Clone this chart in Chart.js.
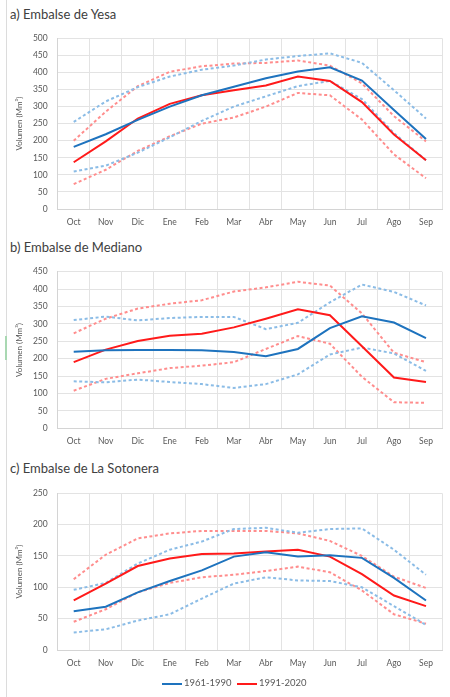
<!DOCTYPE html>
<html>
<head>
<meta charset="utf-8">
<script src="https://cdn.jsdelivr.net/npm/chart.js@4.4.1/dist/chart.umd.min.js"></script>
<style>
  body { margin: 0; background: #fff; width: 450px; height: 697px; position: relative; overflow: hidden; font-family: Lato, "Liberation Sans", sans-serif; }
  .borde { position: absolute; left: 6px; top: 0; width: 1px; height: 697px; background: #dcdcdc; }
  .marca { position: absolute; left: 5px; top: 336px; width: 2px; height: 24px; background: #a9d8b2; }
  .titulo { position: absolute; left: 10px; font-size: 13px; color: #404040; line-height: 16px; }
  canvas { position: absolute; left: 0; }
  .leyenda { position: absolute; top: 677px; font-family: Lato, "Liberation Sans", sans-serif; font-size: 9.5px; color: #595959; line-height: 12px; white-space: nowrap; }
  .leyenda span.linea { display: inline-block; width: 20px; height: 2px; vertical-align: middle; margin-right: 2px; }
</style>
</head>
<body>
<div class="borde"></div>
<div class="marca"></div>

<div class="titulo" style="top:6px">a) Embalse de Yesa</div>
<canvas id="yesa" width="450" height="230" style="top:0"></canvas>

<div class="titulo" style="top:239px">b) Embalse de Mediano</div>
<canvas id="mediano" width="450" height="225" style="top:230px"></canvas>

<div class="titulo" style="top:460px">c) Embalse de La Sotonera</div>
<canvas id="sotonera" width="450" height="242" style="top:455px"></canvas>

<div class="leyenda" style="left:162px"><span class="linea" style="background:#1e73be"></span>1961-1990</div>
<div class="leyenda" style="left:237px"><span class="linea" style="background:#ff1a1a"></span>1991-2020</div>

<script>
// meses del año hidrológico
const meses = ['Oct', 'Nov', 'Dic', 'Ene', 'Feb', 'Mar', 'Abr', 'May', 'Jun', 'Jul', 'Ago', 'Sep'];

// a) Yesa (Mm3) - media y bandas de los dos periodos
const yesa6190 = [182, 219, 261, 300, 333, 358, 383, 403, 415, 376, 290, 205];
const yesa6190Alto = [255, 315, 357, 388, 408, 420, 438, 448, 456, 428, 348, 265];
const yesa6190Bajo = [110, 127, 165, 210, 258, 300, 330, 360, 375, 322, 222, 143];
const yesa9120 = [137, 198, 265, 308, 333, 348, 362, 388, 375, 313, 218, 143];
const yesa9120Alto = [200, 285, 360, 402, 418, 426, 428, 435, 420, 368, 272, 198];
const yesa9120Bajo = [73, 115, 170, 213, 250, 268, 300, 340, 333, 262, 160, 90];

// b) Mediano
const mediano6190 = [220, 224, 225, 225, 224, 219, 207, 228, 288, 322, 304, 259];
const mediano6190Alto = [311, 321, 310, 317, 320, 320, 285, 303, 362, 413, 392, 353];
const mediano6190Bajo = [135, 132, 140, 133, 127, 116, 127, 155, 212, 232, 215, 165];
const mediano9120 = [190, 226, 251, 266, 272, 290, 315, 342, 325, 236, 146, 133];
const mediano9120Alto = [273, 315, 344, 358, 368, 393, 405, 421, 410, 330, 217, 190];
const mediano9120Bajo = [108, 142, 158, 173, 180, 190, 228, 265, 243, 148, 75, 73];

// c) La Sotonera
const sotonera6190 = [62, 69, 92, 110, 127, 149, 156, 149, 151, 147, 115, 79];
const sotonera6190Alto = [96, 107, 138, 160, 173, 193, 195, 187, 193, 194, 160, 120];
const sotonera6190Bajo = [28, 33, 47, 57, 82, 106, 116, 111, 110, 100, 70, 40];
const sotonera9120 = [79, 106, 134, 146, 153, 154, 157, 160, 149, 121, 87, 70];
const sotonera9120Alto = [113, 152, 178, 186, 190, 190, 190, 186, 174, 150, 117, 99];
const sotonera9120Bajo = [45, 65, 92, 107, 116, 120, 126, 133, 124, 95, 57, 42];

const azul = '#1e73be', rojo = '#ff1a1a';
const azulClaro = '#8bbce6', rojoClaro = '#ff8d8d';
const fuente = 'Lato, "Liberation Sans", sans-serif';
const gris = '#595959';
const rejilla = '#e3e3e3';

function linea(valores, color, discontinua) {
  return {
    data: valores,
    borderColor: color,
    backgroundColor: color,
    borderWidth: 2,
    borderDash: discontinua ? [3, 2.5] : [],
    pointRadius: 0,
    tension: 0,
    fill: false
  };
}

// crea un panel: padTop/padBottom fijan el area de dibujo
function panel(id, series, yMax, padTop, padBottom) {
  new Chart(document.getElementById(id), {
    type: 'line',
    data: {
      labels: meses,
      datasets: [
        linea(series[0], azul, false),
        linea(series[3], rojo, false),
        linea(series[1], azulClaro, true),
        linea(series[2], azulClaro, true),
        linea(series[4], rojoClaro, true),
        linea(series[5], rojoClaro, true)
      ]
    },
    options: {
      responsive: false,
      animation: false,
      devicePixelRatio: 1,
      layout: { padding: { top: padTop, right: 8, bottom: padBottom, left: 0 } },
      plugins: { legend: { display: false }, tooltip: { enabled: false } },
      scales: {
        x: {
          offset: true,
          grid: { offset: true, color: rejilla, drawTicks: false },
          border: { color: '#d4d4d4' },
          ticks: { color: gris, font: { family: fuente, size: 8.5 }, padding: 8, maxRotation: 0, autoSkip: false },
          afterFit: s => { s.height = 21; }
        },
        y: {
          min: 0,
          max: yMax,
          grid: { color: rejilla, drawTicks: false },
          border: { color: '#d4d4d4' },
          ticks: { stepSize: 50, color: gris, font: { family: fuente, size: 8.5 }, padding: 10 },
          title: { display: true, text: 'Volumen (Mm³)', color: gris, font: { family: fuente, size: 8 }, padding: { top: 15, bottom: 0 } },
          afterFit: s => { s.width = 57.7; }
        }
      }
    }
  });
}

panel('yesa', [yesa6190, yesa6190Alto, yesa6190Bajo, yesa9120, yesa9120Alto, yesa9120Bajo], 500, 38.3, 0);
panel('mediano', [mediano6190, mediano6190Alto, mediano6190Bajo, mediano9120, mediano9120Alto, mediano9120Bajo], 450, 41.7, 5.7);
panel('sotonera', [sotonera6190, sotonera6190Alto, sotonera6190Bajo, sotonera9120, sotonera9120Alto, sotonera9120Bajo], 250, 38.3, 26);
</script>
</body>
</html>
